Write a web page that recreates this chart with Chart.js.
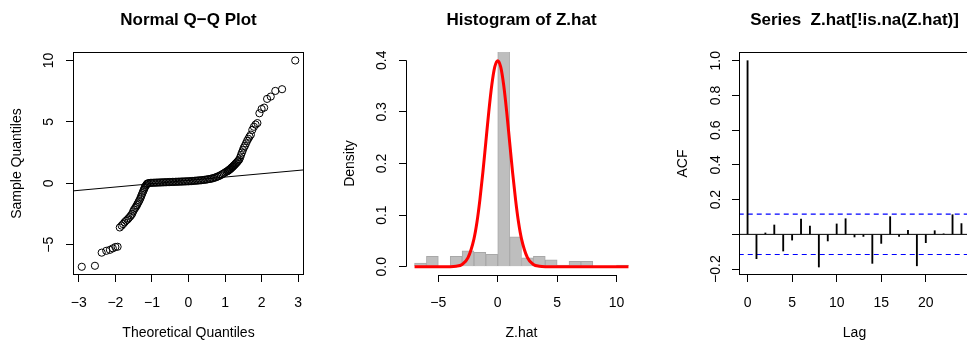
<!DOCTYPE html>
<html>
<head>
<meta charset="utf-8">
<script src="https://cdn.jsdelivr.net/npm/chart.js@4"></script>
<style>
  html, body { margin: 0; padding: 0; background: #fff; overflow: hidden; }
  #wrap { position: relative; width: 1000px; height: 343px; }
  canvas { position: absolute; top: 0; }
</style>
</head>
<body>
<div id="wrap">
  <canvas id="qq" width="333" height="343" style="left:0px"></canvas>
  <canvas id="hist" width="333" height="343" style="left:333px"></canvas>
  <canvas id="acf" width="334" height="343" style="left:666px"></canvas>
</div>
<script>
// ---- Normal Q-Q plot (sorted) ----
const qqTheo = [
  -2.92, -2.56, -2.375, -2.25, -2.15, -2.07, -2.00, -1.94,
  -1.88, -1.83, -1.79, -1.75, -1.71, -1.67,
  -1.64, -1.60, -1.57, -1.54, -1.515, -1.49, -1.46, -1.435, -1.41,
  -1.39, -1.365, -1.345, -1.32, -1.30, -1.28, -1.26, -1.24,
  -1.22, -1.205, -1.19, -1.17, -1.15, -1.135, -1.12,
  -1.08, -1.04, -1.00, -0.96, -0.92, -0.88, -0.84, -0.80, -0.76, -0.72,
  -0.68, -0.64, -0.60, -0.56, -0.52, -0.48, -0.44, -0.40, -0.36, -0.32,
  -0.28, -0.24, -0.20, -0.16, -0.12, -0.08, -0.04, 0.00, 0.04, 0.08,
  0.12, 0.16, 0.20, 0.24, 0.28, 0.32, 0.36, 0.40, 0.44, 0.48,
  0.52, 0.56, 0.60, 0.64, 0.68, 0.72, 0.76, 0.80, 0.84, 0.88,
  0.92, 0.96, 1.00, 1.04, 1.07,
  1.087, 1.103, 1.12, 1.136, 1.153, 1.17, 1.188, 1.206, 1.224, 1.243,
  1.262, 1.282, 1.302, 1.322, 1.343, 1.365, 1.389,
  1.412, 1.437, 1.462, 1.488, 1.515,
  1.543, 1.573, 1.603, 1.636, 1.670, 1.707,
  1.746, 1.79, 1.835, 1.885,
  1.94, 2.00, 2.07, 2.15, 2.25, 2.375, 2.56, 2.92
];
const qqSample = [
  -6.80, -6.72, -5.65, -5.50, -5.42, -5.30, -5.19, -5.17,
  -3.60, -3.45, -3.32, -3.18, -3.05, -2.95,
  -2.85, -2.72, -2.60, -2.48, -2.30, -2.15, -2.02, -1.90, -1.78,
  -1.65, -1.52, -1.40, -1.25, -1.10, -0.95, -0.80, -0.66,
  -0.52, -0.40, -0.30, -0.20, -0.12, -0.06, -0.01,
  0.02, 0.03, 0.04, 0.04, 0.05, 0.05, 0.06, 0.06, 0.07, 0.07,
  0.08, 0.08, 0.09, 0.09, 0.10, 0.10, 0.11, 0.11, 0.12, 0.12,
  0.13, 0.13, 0.14, 0.14, 0.15, 0.15, 0.16, 0.16, 0.17, 0.18,
  0.19, 0.20, 0.21, 0.22, 0.23, 0.24, 0.25, 0.27, 0.28, 0.30,
  0.32, 0.34, 0.36, 0.39, 0.42, 0.46, 0.50, 0.55, 0.60, 0.66,
  0.73, 0.80, 0.88, 0.95, 0.99,
  1.03, 1.07, 1.11, 1.15, 1.19, 1.24, 1.29, 1.34, 1.39, 1.45,
  1.51, 1.57, 1.63, 1.70, 1.77, 1.85, 1.93,
  2.10, 2.30, 2.50, 2.70, 2.90,
  3.05, 3.25, 3.45, 3.62, 3.80, 3.96,
  4.35, 4.60, 4.78, 4.90,
  5.70, 6.05, 6.16, 6.87, 7.06, 7.52, 7.66, 10.00
];
const qqLineX = [-3.16, 3.16];
const qqLineY = [-0.62, 1.09];
const qqXTicks = [-3, -2, -1, 0, 1, 2, 3];
const qqYTicks = [-5, 0, 5, 10];

// ---- Histogram of Z.hat ----
const binMids = [-6.5, -5.5, -4.5, -3.5, -2.5, -1.5, -0.5, 0.5, 1.5, 2.5, 3.5, 4.5, 5.5, 6.5, 7.5, 8.5, 9.5, 10.5];
const binDensity = [0.007, 0.020, 0, 0.020, 0.031, 0.028, 0.024, 0.73, 0.058, 0.0175, 0.020, 0.0135, 0.003, 0.0103, 0.0103, 0, 0, 0.003];
const normX = [-7, -4, -3.5, -3, -2.5, -2, -1.75, -1.5, -1.25, -1, -0.75, -0.5, -0.25, 0, 0.25, 0.5, 0.75, 1, 1.25, 1.5, 1.75, 2, 2.5, 3, 3.5, 4, 11];
const normY = [0, 0.0001, 0.0009, 0.0044, 0.0175, 0.054, 0.086, 0.13, 0.183, 0.242, 0.301, 0.352, 0.387, 0.399, 0.387, 0.352, 0.301, 0.242, 0.183, 0.13, 0.086, 0.054, 0.0175, 0.0044, 0.0009, 0.0001, 0];
const histXTicks = [-5, 0, 5, 10];
const histYTicks = [0, 0.1, 0.2, 0.3, 0.4];

// ---- ACF ----
const acfLag = [0, 1, 2, 3, 4, 5, 6, 7, 8, 9, 10, 11, 12, 13, 14, 15, 16, 17, 18, 19, 20, 21, 22, 23, 24];
const acfValue = [1.0, -0.140, 0.008, 0.054, -0.096, -0.033, 0.088, 0.048, -0.188, -0.038, 0.060, 0.090, -0.015,
  -0.012, -0.167, -0.052, 0.102, -0.012, 0.023, -0.181, -0.048, 0.021, 0.003, 0.113, 0.062];
const ciBound = 0.116;
const acfXTicks = [0, 5, 10, 15, 20];
const acfYTicks = [-0.2, 0, 0.2, 0.4, 0.6, 0.8, 1.0];

const fontFam = "'Liberation Sans', Arial, Helvetica, sans-serif";
Chart.defaults.font.family = fontFam;
Chart.defaults.color = '#000';

const rminus = (s) => String(s).replace('-', '\u2212');

// R style frame: full box, or axis lines only between first and last tick
const rFrame = {
  id: 'rFrame',
  afterDatasetsDraw(chart, args, opts) {
    const { ctx, chartArea: a, scales } = chart;
    ctx.save();
    ctx.strokeStyle = '#000';
    ctx.lineWidth = 1;
    if (opts.box) {
      ctx.strokeRect(Math.round(a.left) + 0.5, Math.round(a.top) + 0.5,
        Math.round(a.width) - 1, Math.round(a.height) - 1);
    } else {
      const xt = scales.x.ticks, yt = scales.y.ticks;
      const yb = Math.round(a.bottom) + 0.5, xl = Math.round(a.left) + 0.5;
      ctx.beginPath();
      ctx.moveTo(scales.x.getPixelForValue(xt[0].value), yb);
      ctx.lineTo(scales.x.getPixelForValue(xt[xt.length - 1].value), yb);
      ctx.moveTo(xl, scales.y.getPixelForValue(yt[0].value));
      ctx.lineTo(xl, scales.y.getPixelForValue(yt[yt.length - 1].value));
      ctx.stroke();
    }
    ctx.restore();
  }
};

const xAxis = (min, max, ticks, title, fmt) => ({
  type: 'linear', min, max, offset: false,
  afterBuildTicks: (s) => { s.ticks = ticks.map(v => ({ value: v })); },
  afterFit: (s) => { s.height = 68; },
  grid: { offset: false, drawOnChartArea: false, drawTicks: true, tickLength: 7, tickColor: '#000' },
  border: { display: false },
  ticks: { color: '#000', font: { size: 14 }, padding: 12.6, maxRotation: 0, autoSkip: false, callback: fmt },
  title: { display: true, text: title, color: '#000', font: { size: 14 }, padding: { top: 0, bottom: 1.6 } }
});

const yAxis = (min, max, ticks, title, fmt, pad) => ({
  type: 'linear', min, max,
  afterBuildTicks: (s) => { s.ticks = ticks.map(v => ({ value: v })); },
  afterFit: (s) => { s.width = 73; },
  grid: { drawOnChartArea: false, drawTicks: true, tickLength: 7, tickColor: '#000' },
  border: { display: false },
  ticks: { color: '#000', font: { size: 14 }, padding: pad, minRotation: 90, maxRotation: 90,
    crossAlign: 'center', autoSkip: false, callback: fmt },
  title: { display: true, text: title, color: '#000', font: { size: 14 }, padding: { top: 8.6, bottom: 0 } }
});

const titleOpts = (text) => ({
  display: true, text, fullSize: false, color: '#000',
  font: { size: 17, weight: 'bold' },
  padding: { top: 10.3, bottom: 21.3 }
});

const common = {
  responsive: false,
  animation: false,
  events: [],
  layout: { padding: { left: 0, right: 29, top: 0, bottom: 0 } }
};

// Q-Q plot
new Chart(document.getElementById('qq'), {
  type: 'scatter',
  data: {
    datasets: [
      {
        data: qqTheo.map((x, i) => ({ x, y: qqSample[i] })),
        pointStyle: 'circle', pointRadius: 3.6, pointBorderWidth: 1,
        pointBorderColor: '#000', pointBackgroundColor: 'rgba(0,0,0,0)'
      },
      {
        type: 'line',
        data: qqLineX.map((x, i) => ({ x, y: qqLineY[i] })),
        borderColor: '#000', borderWidth: 1, pointRadius: 0
      }
    ]
  },
  options: {
    ...common,
    plugins: { legend: { display: false }, tooltip: { enabled: false },
      title: titleOpts('Normal Q\u2212Q Plot'), rFrame: { box: true } },
    scales: {
      x: xAxis(-3.16, 3.16, qqXTicks, 'Theoretical Quantiles', (v) => rminus(v)),
      y: yAxis(-7.47, 10.69, qqYTicks, 'Sample Quantiles', (v) => rminus(v), 9)
    }
  },
  plugins: [rFrame]
});

// Histogram
new Chart(document.getElementById('hist'), {
  type: 'bar',
  data: {
    datasets: [
      {
        type: 'line',
        data: normX.map((x, i) => ({ x, y: normY[i] })),
        borderColor: '#ff0000', borderWidth: 3, pointRadius: 0,
        cubicInterpolationMode: 'monotone'
      },
      {
        data: binMids.map((x, i) => ({ x, y: binDensity[i] })),
        backgroundColor: '#bebebe', borderColor: '#a8a8a8', borderWidth: 1,
        barPercentage: 1, categoryPercentage: 1
      }
    ]
  },
  options: {
    ...common,
    plugins: { legend: { display: false }, tooltip: { enabled: false },
      title: titleOpts('Histogram of Z.hat'), rFrame: { box: false } },
    scales: {
      x: xAxis(-7.72, 11.72, histXTicks, 'Z.hat', (v) => rminus(v)),
      y: yAxis(-0.016, 0.416, histYTicks, 'Density', (v) => v.toFixed(1), 7.6)
    }
  },
  plugins: [rFrame]
});

// ACF
new Chart(document.getElementById('acf'), {
  type: 'bar',
  data: {
    datasets: [
      {
        data: acfLag.map((x, i) => ({ x, y: acfValue[i] })),
        backgroundColor: '#000', barThickness: 1.2
      },
      {
        type: 'line', data: [{ x: -2, y: 0 }, { x: 27, y: 0 }],
        borderColor: '#000', borderWidth: 1, pointRadius: 0
      },
      {
        type: 'line', data: [{ x: -2, y: ciBound }, { x: 27, y: ciBound }],
        borderColor: '#0000ff', borderWidth: 1.2, borderDash: [5, 4], pointRadius: 0
      },
      {
        type: 'line', data: [{ x: -2, y: -ciBound }, { x: 27, y: -ciBound }],
        borderColor: '#0000ff', borderWidth: 1.2, borderDash: [5, 4], pointRadius: 0
      }
    ]
  },
  options: {
    ...common,
    layout: { padding: { left: 0, right: 30, top: 0, bottom: 0 } },
    plugins: { legend: { display: false }, tooltip: { enabled: false },
      title: titleOpts('Series  Z.hat[!is.na(Z.hat)]'), rFrame: { box: true } },
    scales: {
      x: xAxis(-0.96, 24.96, acfXTicks, 'Lag', (v) => rminus(v)),
      y: yAxis(-0.234, 1.05, acfYTicks, 'ACF', (v) => (v === 0 ? '' : rminus(v.toFixed(1))), 2.2)
    }
  },
  plugins: [rFrame]
});
</script>
</body>
</html>
